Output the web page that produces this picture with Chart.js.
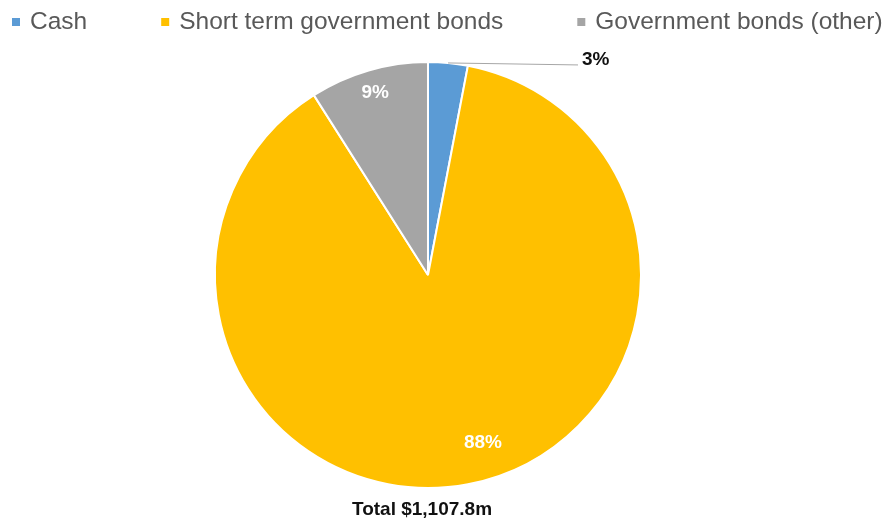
<!DOCTYPE html>
<html>
<head>
<meta charset="utf-8">
<script src="https://cdn.jsdelivr.net/npm/chart.js@4.4.1/dist/chart.umd.min.js"></script>
<style>
  html, body { margin: 0; padding: 0; background: #fff; }
  #wrap { width: 892px; height: 525px; position: relative; }
</style>
</head>
<body>
<div id="wrap"><canvas id="holdings"></canvas></div>
<script>
const categories = ["Cash", "Short term government bonds", "Government bonds (other)"];
const shares = [3, 88, 9];
const shareLabels = ["3%", "88%", "9%"];
const totalLabel = "Total $1,107.8m";

const COLOR = {
  cash: "#5B9BD5",
  shortTerm: "#FFC000",
  other: "#A5A5A5",
  legendText: "#595959",
  darkText: "#111111",
  leader: "#A6A6A6",
};
const FONT = "'Liberation Sans', Arial, sans-serif";

// legend row across the top, drawn straight on the canvas
const topLegend = {
  id: "topLegend",
  afterDraw(chart) {
    const ctx = chart.ctx;
    const colors = chart.data.datasets[0].backgroundColor;
    ctx.save();
    ctx.font = "24.5px " + FONT;
    ctx.textBaseline = "middle";
    let x = 12;
    const y = 22;
    chart.data.labels.forEach((label, i) => {
      ctx.fillStyle = colors[i];
      ctx.fillRect(x, y - 4, 8, 8);
      ctx.fillStyle = COLOR.legendText;
      ctx.fillText(label, x + 18, y);
      x += 18 + ctx.measureText(label).width + 74;
    });
    ctx.restore();
  },
};

// percentage labels on the slices + total underneath
const sliceLabels = {
  id: "sliceLabels",
  afterDatasetsDraw(chart) {
    const ctx = chart.ctx;
    const arcs = chart.getDatasetMeta(0).data;
    ctx.save();
    ctx.font = "bold 19px " + FONT;
    ctx.textBaseline = "middle";
    arcs.forEach((arc, i) => {
      const { x, y, startAngle, endAngle, outerRadius } = arc.getProps(
        ["x", "y", "startAngle", "endAngle", "outerRadius"], true);
      const mid = (startAngle + endAngle) / 2;
      if (i === 0) {
        // small slice: label sits outside with a leader line
        const rx = x + outerRadius * Math.cos(mid);
        const ry = y + outerRadius * Math.sin(mid);
        ctx.strokeStyle = COLOR.leader;
        ctx.lineWidth = 1;
        ctx.beginPath();
        ctx.moveTo(rx, ry);
        ctx.lineTo(x + 150, ry + 2);
        ctx.stroke();
        ctx.fillStyle = COLOR.darkText;
        ctx.textAlign = "left";
        ctx.fillText(shareLabels[i], x + 154, ry - 3);
        return;
      }
      let a = mid, r = outerRadius * 0.89;
      if (i === 1) { a = mid - 7.3 * Math.PI / 180; r = outerRadius * 0.83; }
      ctx.fillStyle = "#ffffff";
      ctx.textAlign = "center";
      ctx.fillText(shareLabels[i], x + r * Math.cos(a), y + r * Math.sin(a));
    });
    const c = arcs[0];
    ctx.fillStyle = COLOR.darkText;
    ctx.textAlign = "center";
    ctx.fillText(totalLabel, c.x - 6, chart.chartArea.bottom + 21);
    ctx.restore();
  },
};

new Chart(document.getElementById("holdings"), {
  type: "pie",
  data: {
    labels: categories,
    datasets: [{
      data: shares,
      backgroundColor: [COLOR.cash, COLOR.shortTerm, COLOR.other],
      borderColor: "#ffffff",
      borderWidth: 2,
    }],
  },
  options: {
    responsive: true,
    maintainAspectRatio: false,
    animation: false,
    layout: { padding: { top: 61, bottom: 36, left: 0, right: 36 } },
    plugins: {
      legend: { display: false },
      tooltip: { enabled: false },
      title: { display: false },
    },
  },
  plugins: [topLegend, sliceLabels],
});
</script>
</body>
</html>
